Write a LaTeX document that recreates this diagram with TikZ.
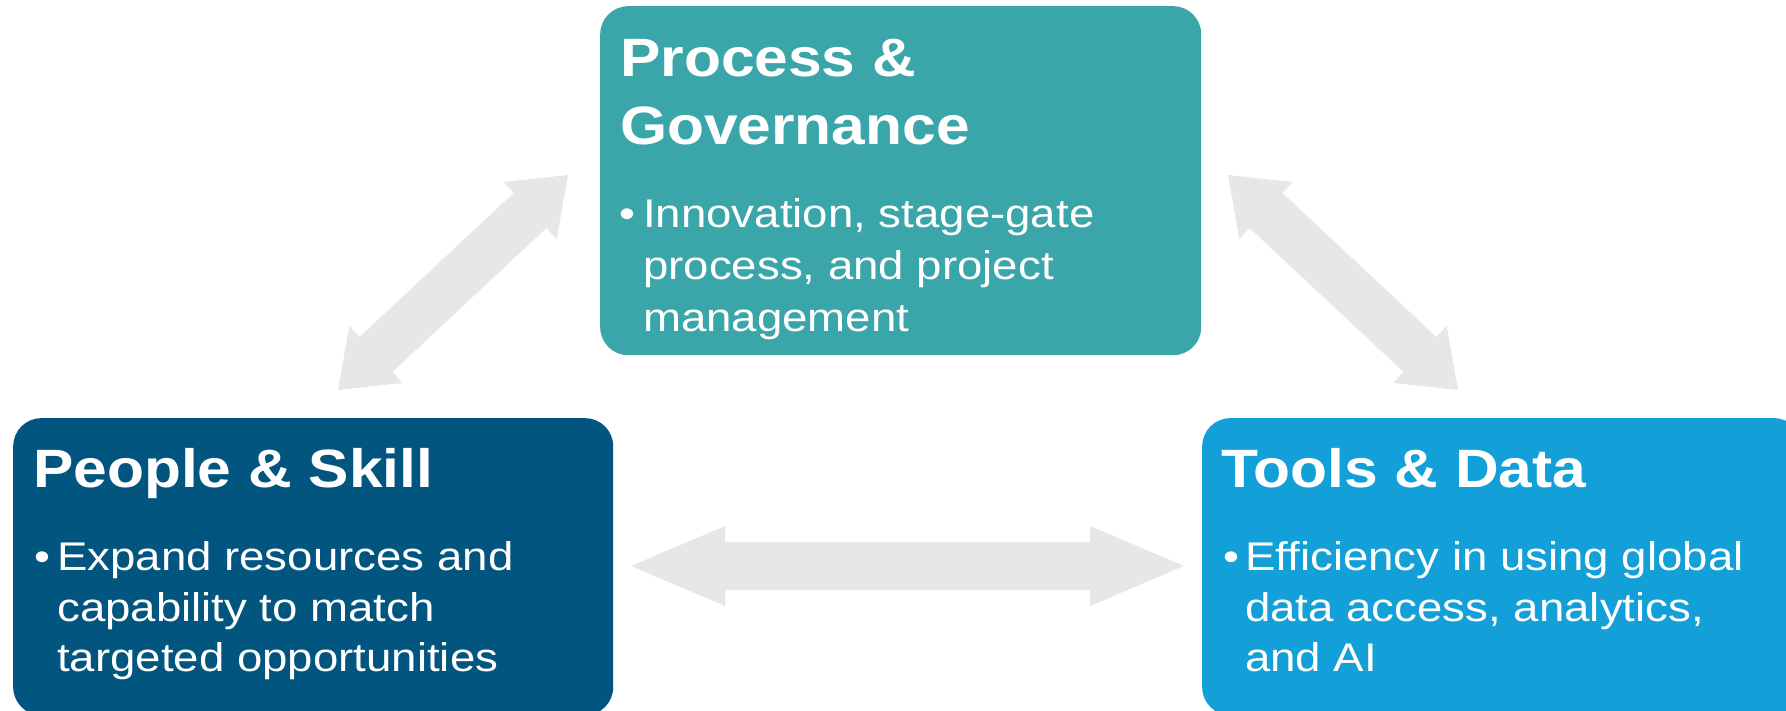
\documentclass[tikz,border=0pt]{standalone}
\usepackage{fontspec}
\setmainfont{Liberation Sans}
\newfontfamily\titlefont{Liberation Sans}[FakeStretch=1.12]
\newfontfamily\bodyfont{Liberation Sans}[FakeStretch=1.14]
\usetikzlibrary{calc}
\definecolor{teal1}{HTML}{3BA6A9}
\definecolor{navy1}{HTML}{02557F}
\definecolor{sky1}{HTML}{139FD7}
\definecolor{arrowgray}{HTML}{E7E7E7}
\newcommand{\blockarrow}[6]{%
  % #1 name prefix, #2 tip A, #3 tip B, #4 head length, #5 head half width, #6 shaft half width
  \coordinate (#1HA) at ($(#2)!#4!(#3)$);
  \coordinate (#1HB) at ($(#3)!#4!(#2)$);
  \fill[arrowgray] (#2) -- ($(#1HA)!#5!90:(#3)$) -- ($(#1HA)!#6!90:(#3)$)
    -- ($(#1HB)!#6!-90:(#2)$) -- ($(#1HB)!#5!-90:(#2)$) -- (#3)
    -- ($(#1HB)!#5!90:(#2)$) -- ($(#1HB)!#6!90:(#2)$)
    -- ($(#1HA)!#6!-90:(#3)$) -- ($(#1HA)!#5!-90:(#3)$) -- cycle;
}
\tikzset{
  box/.style={rectangle, rounded corners=28pt, inner sep=0pt, anchor=north west},
  title/.style={anchor=base west, inner sep=0pt, text=white, font=\titlefont\fontsize{54}{68}\selectfont\bfseries},
  body/.style={anchor=base west, inner sep=0pt, text=white, font=\bodyfont\fontsize{40}{51}\selectfont},
}
\begin{document}
\begin{tikzpicture}[x=1pt, y=-1pt]
\useasboundingbox (0,0) rectangle (1786,711);
% boxes
\node[box, fill=teal1, minimum width=601pt, minimum height=349pt] (pg) at (600,6) {};
\node[box, fill=navy1, minimum width=600pt, minimum height=297pt] (ps) at (13,418) {};
\node[box, fill=sky1, minimum width=600pt, minimum height=297pt] (td) at (1202,418) {};
% arrows
\coordinate (l1) at (338,390); \coordinate (l2) at (568,175);
\coordinate (r1) at (1228,175); \coordinate (r2) at (1458,390);
\coordinate (h1) at (631,566); \coordinate (h2) at (1184,566);
\blockarrow{la}{l1}{l2}{52pt}{39pt}{24pt}
\blockarrow{ra}{r1}{r2}{52pt}{39pt}{24pt}
\blockarrow{ha}{h1}{h2}{94pt}{40pt}{24pt}
% top box text
\node[title] (pgt1) at (620,77) {Process \&};
\node[title] (pgt2) at (620,145) {Governance};
\node[body] (pgb) at (619,228) {•};
\node[body] (pg1) at (643,228) {Innovation, stage-gate};
\node[body] (pg2) at (643,280) {process, and project};
\node[body] (pg3) at (643,332) {management};
% left box text
\node[title] (pst) at (33,487) {People \& Skill};
\node[body] (psb) at (34,570) {•};
\node[body] (ps1) at (57,570) {Expand resources and};
\node[body] (ps2) at (57,621) {capability to match};
\node[body] (ps3) at (57,671) {targeted opportunities};
% right box text
\node[title] (tdt) at (1221,487) {Tools \& Data};
\node[body] (tdb) at (1223,570) {•};
\node[body] (td1) at (1245,570) {Efficiency in using global};
\node[body] (td2) at (1245,621) {data access, analytics,};
\node[body] (td3) at (1245,671) {and AI};
\end{tikzpicture}
\end{document}
